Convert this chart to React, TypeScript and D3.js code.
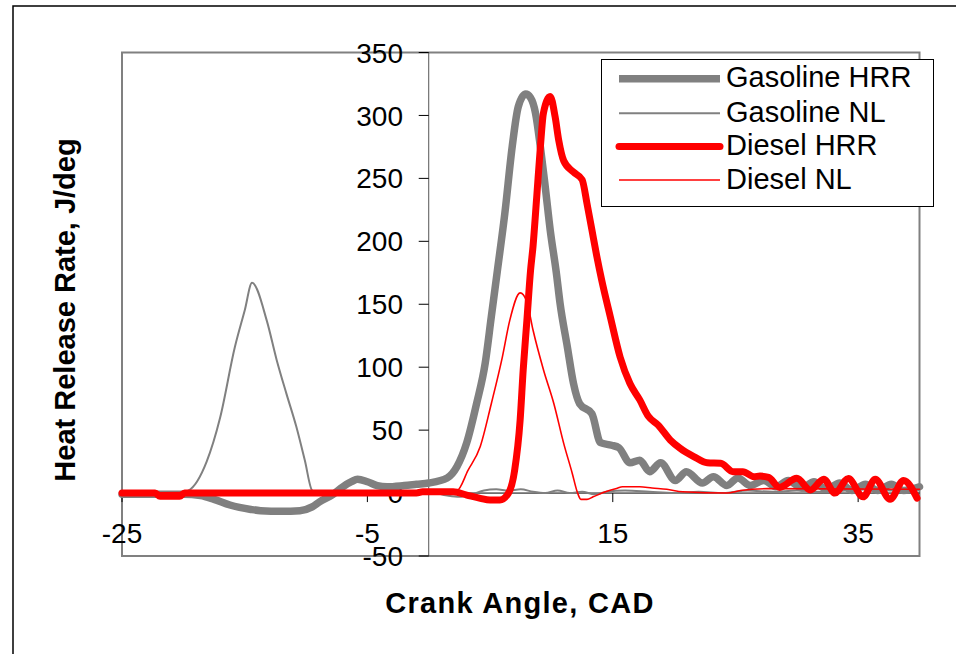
import React from "react";
import * as d3 from "d3";

// ---- Data ----
const gasHrrCad = [-25,-22,-20,-18.6,-17.5,-16.2,-14.5,-13.7,-12,-10.5,-9.5,-8.9,-7.8,-7,-6.3,-5.8,-5,-4.2,-3.4,-2,-1,0,1.5,2.3,3.1,3.9,4.6,5.1,5.6,6.2,6.8,7.3,7.9,8.3,8.7,9.1,9.5,9.9,10.4,10.7,11.3,11.8,12.3,13.3,14.0,14.9,15.5,16.4,17.2,18.0,18.9,20.1,21.0,22.3,23.2,24.3,25.2,26.2,27.3,28.3,29.3,30.4,31.4,32.4,33.5,34.5,35.6,36.6,37.7,38.7,40];
const gasHrrVal = [-1,-1,-1,-2,-5,-9.5,-13,-14,-14.5,-14,-11,-7,-1,5,9,11,9,6,5,6,7,8,12,21,40,71,103,140,177,222,275,307,317,314,302,275,243,209,175,151,116,87,71,63,40,38,36,24,26,17,24,10,17,8,13,6,12,6,10,5,10,4,9,3,8,2,7,2,7,2,5];

const gasNlCad = [-25,-20.5,-19.6,-18.1,-17,-15.8,-15,-14.4,-13.2,-12.4,-11.6,-10.8,-10.1,-9.5,-9,-5,0,1.5,2.5,3.5,4.5,5.5,6.5,7.5,8.5,9.5,10.5,11.5,12.5,13.5,14.5,16,18,20,22,24,26,28,30,32,34,36,38,40];
const gasNlVal = [0,0,2,25,60,116,145,167,137,106,79,53,26,2,0,0,1,-2,-3,-1,2,3,2,3,1,0,2,0,1,-1,1,2,1,0,1,0,2,1,2,1,2,3,2,3];

const dslHrrCad = [-25,-22.3,-21.9,-20.3,-19.9,-1,-0.5,2,3.1,4.2,5.0,5.8,6.5,7.0,7.45,7.7,8.0,8.3,8.5,8.8,9.1,9.35,9.9,10.3,10.6,11.0,11.8,12.5,12.9,13.3,13.7,14.1,14.8,15.6,16.4,17.2,17.9,18.7,19.7,20.5,21.6,22.7,23.8,24.8,25.6,26.5,27.0,27.7,28.6,30.0,31.1,32.2,33.1,34.2,35.4,36.4,37.6,38.7,39.8];
const dslHrrVal = [0,0,-2.5,-2.5,0,0,1,1,-1.6,-4.2,-5.5,-5.5,0,18,58,98,137,177,196,235,275,302,315,299,280,264,255,249,230,209,188,169,140,108,87,74,61,54,42,35.5,29,24,23.6,17,17,13,13.5,12.5,4.5,11.7,2.4,11,0,11.5,-3,11,-5,10,-4];

const dslNlCad = [-25,2.3,3.2,4.2,5.1,6.0,6.6,7.45,8.0,8.5,9.35,10.2,11.0,11.7,12.1,12.4,12.9,13.4,14.4,15.3,15.8,17.2,18.2,19.4,20.7,24.3,25.4,27.6,40];
const dslNlVal = [0,2,18,37,71,108,137,159,152,129.5,98,71,39.5,15.6,1,-5,-5,-3,1,3.7,5,5,4,3,1,0,2,3.5,3];

const xTicks = [-25, -5, 15, 35];
const yTicks = [-50, 0, 50, 100, 150, 200, 250, 300, 350];
const legendLabels = ["Gasoline HRR", "Gasoline NL", "Diesel HRR", "Diesel NL"];
const xTitle = "Crank Angle, CAD";
const yTitle = "Heat Release Rate, J/deg";

const series = [
  { name: legendLabels[0], cad: gasHrrCad, val: gasHrrVal, color: "#808080", width: 7.5 },
  { name: legendLabels[1], cad: gasNlCad, val: gasNlVal, color: "#808080", width: 2 },
  { name: legendLabels[2], cad: dslHrrCad, val: dslHrrVal, color: "#FF0000", width: 7 },
  { name: legendLabels[3], cad: dslNlCad, val: dslNlVal, color: "#FF0000", width: 1.6 },
];

export default function App() {
  const W = 956, H = 654;
  const left = 122, right = 919.5, top = 52.5, bottom = 556;
  const x = d3.scaleLinear().domain([-25, 40]).range([left, right]);
  const y = d3.scaleLinear().domain([-50, 350]).range([bottom, top]);
  const font = "Liberation Sans, Arial, sans-serif";

  const line = d3.line<[number, number]>().x(d => x(d[0])).y(d => y(d[1])).curve(d3.curveMonotoneX);

  const legX = 601.5, legY = 59.5, legW = 332, legH = 147;
  const legBase = [87.3, 121.7, 155, 188.5];

  return (
    <svg width={W} height={H} style={{ position: "absolute", left: 0, top: 0, display: "block", background: "#fff" }}>
      <rect x={0} y={0} width={W} height={H} fill="#fff" />
      <rect x={13} y={6} width={W} height={H} fill="none" stroke="#000" strokeWidth={1.5} />
      <rect x={left} y={top} width={right - left} height={bottom - top} fill="none" stroke="#808080" strokeWidth={2} />

      {/* axes */}
      <line x1={x(0)} x2={x(0)} y1={top} y2={bottom} stroke="#555" strokeWidth={1} />
      <line x1={left} x2={right} y1={y(0)} y2={y(0)} stroke="#000" strokeWidth={1} />
      {yTicks.map(t => (
        <g key={"y" + t}>
          <line x1={x(0) - 10} x2={x(0)} y1={y(t)} y2={y(t)} stroke="#000" strokeWidth={1} />
          <text x={403} y={y(t)} dy="0.36em" textAnchor="end" fontFamily={font} fontSize={28} fill="#000">{t}</text>
        </g>
      ))}
      {xTicks.map(t => (
        <g key={"x" + t}>
          <line x1={x(t)} x2={x(t)} y1={y(0)} y2={y(0) + 9} stroke="#000" strokeWidth={1} />
          <text x={x(t)} y={543} textAnchor="middle" fontFamily={font} fontSize={28} fill="#000">{t}</text>
        </g>
      ))}

      {/* series */}
      {series.map(s => (
        <path key={s.name} d={line(s.cad.map((c, i) => [c, s.val[i]] as [number, number])) || ""}
          fill="none" stroke={s.color} strokeWidth={s.width} strokeLinejoin="round" strokeLinecap="round" />
      ))}

      {/* titles */}
      <text x={520} y={613} textAnchor="middle" fontFamily={font} fontWeight="bold" fontSize={29} letterSpacing={1.3} fill="#000">{xTitle}</text>
      <text transform={`translate(75,310) rotate(-90)`} textAnchor="middle" fontFamily={font} fontWeight="bold" fontSize={29} fill="#000">{yTitle}</text>

      {/* legend */}
      <rect x={legX} y={legY} width={legW} height={legH} fill="#fff" stroke="#000" strokeWidth={1} />
      {series.map((s, i) => (
        <g key={"l" + s.name}>
          <line x1={619} x2={720} y1={legBase[i] - 8.5} y2={legBase[i] - 8.5} stroke={s.color} strokeWidth={s.width} strokeLinecap={s.color === "#FF0000" && s.width > 3 ? "round" : "butt"} />
          <text x={726} y={legBase[i]} fontFamily={font} fontSize={29} fill="#000">{s.name}</text>
        </g>
      ))}
    </svg>
  );
}
